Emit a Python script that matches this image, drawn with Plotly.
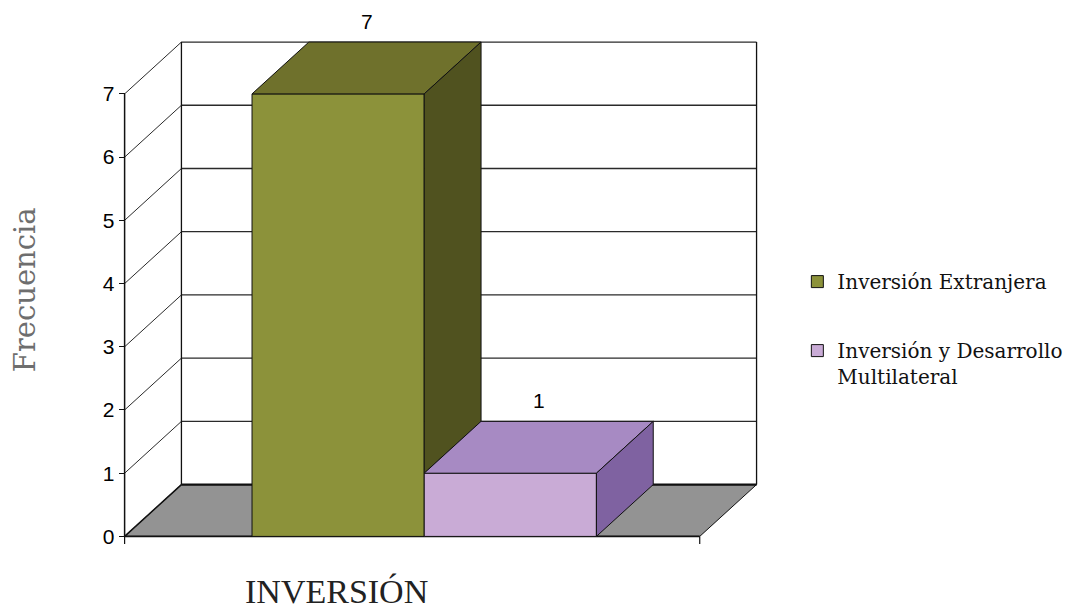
import plotly.graph_objects as go

# ---- data -------------------------------------------------------------
category = "INVERSIÓN"
series_names = ["Inversión Extranjera", "Inversión y Desarrollo<br>Multilateral"]
series_values = [7, 1]
y_ticks = [0, 1, 2, 3, 4, 5, 6, 7]
y_title = "Frecuencia"

# ---- styling ----------------------------------------------------------
front_colors = ["#8C923A", "#C9ABD6"]
top_colors = ["#6F712C", "#A78AC3"]
side_colors = ["#50521F", "#7F62A1"]
floor_color = "#939393"
edge = "#111111"

# 3-D depth expressed in axis units
DX, DY = 0.33, 0.82
X_LEFT, X_RIGHT = -1.74, 1.60        # front floor edges around the category centre (0)
Y_TOP = max(y_ticks)
X_MIN, X_MAX = X_LEFT - 0.05, X_RIGHT + DX + 0.02
Y_MIN, Y_MAX = -0.12, Y_TOP + DY + 0.08

fig = go.Figure()
shapes = []


def seg(x0, y0, x1, y1, width=1.2, color=edge):
    shapes.append(dict(type="line", xref="x", yref="y", x0=x0, y0=y0, x1=x1, y1=y1,
                       line=dict(color=color, width=width), layer="below"))


def poly_path(pts):
    return "M " + " L ".join(f"{x},{y}" for x, y in pts) + " Z"


# floor
shapes.append(dict(type="path", xref="x", yref="y", layer="below",
                   path=poly_path([(X_LEFT, 0), (X_LEFT + DX, DY), (X_RIGHT + DX, DY), (X_RIGHT, 0)]),
                   fillcolor=floor_color, line=dict(color=edge, width=1)))
# walls: back gridlines and side-wall diagonals
for v in y_ticks[1:]:
    seg(X_LEFT + DX, v + DY, X_RIGHT + DX, v + DY, 1.3, "#2a2a2a")
    seg(X_LEFT, v, X_LEFT + DX, v + DY, 1.0, "#2a2a2a")
seg(X_LEFT + DX, DY, X_LEFT + DX, Y_TOP + DY, 1.3)
seg(X_RIGHT + DX, DY, X_RIGHT + DX, Y_TOP + DY, 1.3)
seg(X_LEFT + DX, DY, X_RIGHT + DX, DY, 2.2)
# front value axis and floor edge
seg(X_LEFT, 0, X_LEFT, Y_TOP, 1.5)
seg(X_LEFT, 0, X_RIGHT, 0, 1.8)
seg(X_LEFT, 0, X_LEFT + DX, DY, 1.5)
# category tick marks
for xt in (X_LEFT, X_RIGHT):
    seg(xt, 0, xt, Y_MIN, 1.2)

# bars: front faces as bars, then top and visible side faces
n = len(series_values)
for i, (name, v) in enumerate(zip(series_names, series_values)):
    fig.add_trace(go.Bar(
        x=[0], y=[v], offset=-n / 2 + i, width=1, name=name,
        legendgroup=f"g{i}",
        marker=dict(color=front_colors[i], line=dict(color=edge, width=1)),
        hovertemplate=f"{name.replace('<br>', ' ')}: %{{y}}<extra></extra>",
    ))

for i, v in enumerate(series_values):
    x0 = -n / 2 + i
    x1 = x0 + 1
    nxt = series_values[i + 1] if i + 1 < n else 0
    low = min(nxt, v)
    top = [(x0, v), (x1, v), (x1 + DX, v + DY), (x0 + DX, v + DY), (x0, v)]
    side = [(x1, low), (x1, v), (x1 + DX, v + DY), (x1 + DX, low + DY), (x1, low)]
    for pts, col in ((top, top_colors[i]), (side, side_colors[i])):
        fig.add_trace(go.Scatter(
            x=[p[0] for p in pts], y=[p[1] for p in pts], mode="lines",
            fill="toself", fillcolor=col, line=dict(color=edge, width=1),
            showlegend=False, hoverinfo="skip",
        ))
    fig.add_annotation(x=x0 + 0.5 + DX / 2, y=v + DY, xref="x", yref="y",
                       text=str(v), showarrow=False, yshift=21,
                       font=dict(family="Liberation Sans, Arial", size=21, color="#000"))

fig.add_annotation(text=y_title, textangle=-90, xref="paper", yref="paper",
                   x=-0.141, y=0.501, xanchor="center", yanchor="middle", showarrow=False,
                   font=dict(family="DejaVu Serif", size=29, color="#6e6e6e"))
fig.add_annotation(text=category, xref="paper", yref="paper", x=0.342, y=-0.093,
                   xanchor="center", yanchor="middle", showarrow=False,
                   font=dict(family="Liberation Serif", size=34, color="#222"))

fig.update_layout(
    width=1077, height=611,
    margin=dict(l=116, r=317, t=37, b=67, autoexpand=False),
    paper_bgcolor="white", plot_bgcolor="white",
    barmode="overlay",
    shapes=shapes,
    showlegend=True,
    legend=dict(x=1.058, y=0.556, xanchor="left", yanchor="top",
                font=dict(family="DejaVu Serif", size=20, color="#111"),
                tracegroupgap=40, traceorder="grouped", valign="top",
                bgcolor="rgba(0,0,0,0)"),
    xaxis=dict(range=[X_MIN, X_MAX], showgrid=False, zeroline=False,
               showticklabels=False, ticks="", showline=False, fixedrange=True),
    yaxis=dict(range=[Y_MIN, Y_MAX], tickvals=y_ticks, showgrid=False, zeroline=False,
               showline=False, ticks="outside", ticklen=6, tickcolor=edge,
               anchor="free", position=(X_LEFT - X_MIN) / (X_MAX - X_MIN),
               tickfont=dict(family="Liberation Sans, Arial", size=21, color="#000")),
)

fig.write_html("out.html")
